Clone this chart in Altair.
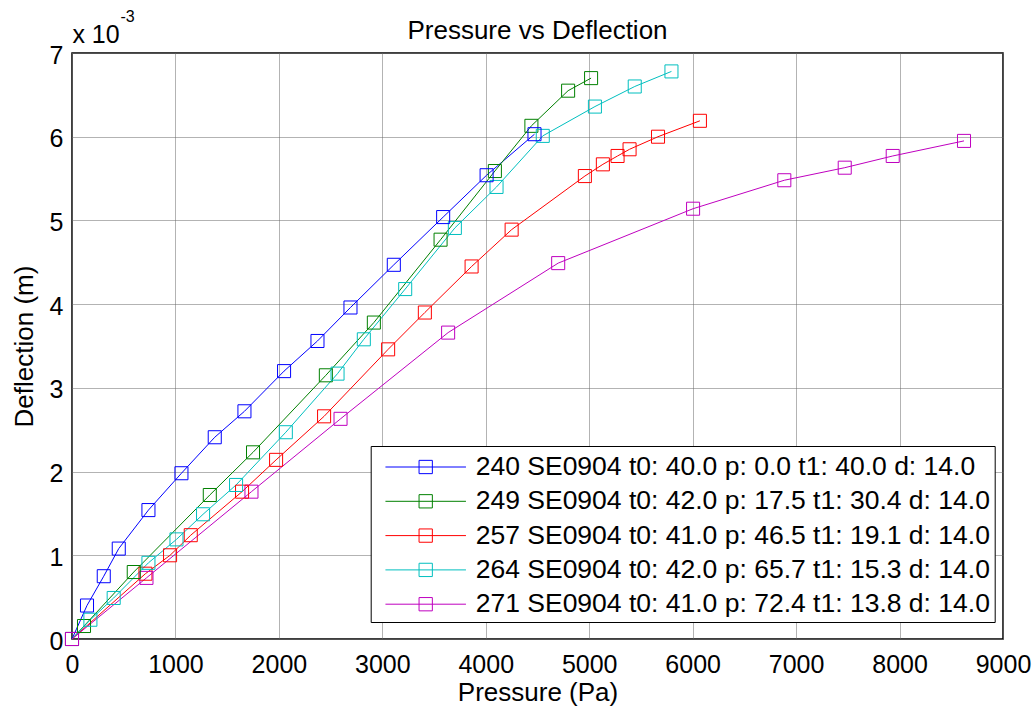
import altair as alt
import pandas as pd

FONT = "Liberation Sans"

series_labels = [
    "240 SE0904 t0: 40.0 p: 0.0 t1: 40.0 d: 14.0",
    "249 SE0904 t0: 42.0 p: 17.5 t1: 30.4 d: 14.0",
    "257 SE0904 t0: 41.0 p: 46.5 t1: 19.1 d: 14.0",
    "264 SE0904 t0: 42.0 p: 65.7 t1: 15.3 d: 14.0",
    "271 SE0904 t0: 41.0 p: 72.4 t1: 13.8 d: 14.0",
]
series_colors = ["#0000FF", "#008000", "#FF0000", "#00BFBF", "#BF00BF"]

# Pressure (Pa)
p240 = [0, 145, 307, 452, 739, 1058, 1380, 1667, 2050, 2373, 2692, 3111, 3588, 4008, 4471]
p249 = [0, 116, 597, 1332, 1750, 2454, 2918, 3563, 4088, 4441, 4796, 5018]
p257 = [0, 710, 948, 1148, 1644, 1973, 2437, 3056, 3411, 3863, 4250, 4958, 5132, 5274, 5390, 5665, 6070]
p264 = [0, 178, 403, 739, 1010, 1267, 1586, 2067, 2567, 2821, 3221, 3701, 4104, 4551, 5055, 5440, 5795]
p271 = [0, 720, 1735, 2596, 3636, 4700, 6004, 6886, 7470, 7934, 8623]

# Deflection (m)
d240 = [0, 0.00040, 0.00075, 0.00108, 0.00154, 0.00198, 0.00241, 0.00272, 0.00320, 0.00356, 0.00396,
        0.00447, 0.00504, 0.00554, 0.00603]
d249 = [0, 0.000155, 0.00080, 0.00172, 0.00223, 0.00315, 0.00378, 0.00477, 0.00559, 0.00613, 0.00655, 0.00670]
d257 = [0, 0.00078, 0.00100, 0.00124, 0.00176, 0.00214, 0.00266, 0.00346, 0.00390, 0.00445, 0.00489,
        0.00553, 0.00567, 0.00577, 0.00585, 0.00600, 0.00619]
d264 = [0, 0.00023, 0.00049, 0.00091, 0.00119, 0.00149, 0.00184, 0.00247, 0.00317, 0.00358, 0.00418,
        0.00491, 0.00540, 0.00601, 0.00636, 0.00660, 0.00678]
d271 = [0, 0.00073, 0.00176, 0.00263, 0.00366, 0.00449, 0.00514, 0.00548, 0.00563, 0.00577, 0.00595]

x_ticks = [0, 1000, 2000, 3000, 4000, 5000, 6000, 7000, 8000, 9000]
y_ticks = [0, 0.001, 0.002, 0.003, 0.004, 0.005, 0.006, 0.007]

rows = []
for lab, xs, ys in zip(series_labels, [p240, p249, p257, p264, p271], [d240, d249, d257, d264, d271]):
    for i, (xv, yv) in enumerate(zip(xs, ys)):
        rows.append({"series": lab, "pressure": xv, "deflection": yv, "idx": i})
df = pd.DataFrame(rows)

legend_path = "M-3.09,0M-2.44,0H2.44M-0.403,-0.403H0.403V0.403H-0.403Z"

lines = alt.Chart(df).mark_line(
    strokeWidth=1,
    point=alt.OverlayMarkDef(shape="square", filled=False, size=170, strokeWidth=1),
).encode(
    x=alt.X("pressure:Q", scale=alt.Scale(domain=[0, 9000], nice=False),
            axis=alt.Axis(values=x_ticks, title="Pressure (Pa)", format="d",
                          titleX=465.5, titleY=61)),
    y=alt.Y("deflection:Q", scale=alt.Scale(domain=[0, 0.007], nice=False),
            axis=alt.Axis(values=y_ticks, title="Deflection (m)",
                          labelExpr="round(datum.value*1000)",
                          titleX=-39.3, titleY=293, labelOffset=2)),
    color=alt.Color("series:N", scale=alt.Scale(domain=series_labels, range=series_colors),
                    legend=alt.Legend(title=None)),
    order="idx:Q",
)

exp_base = alt.Chart(pd.DataFrame({"t": ["x 10"]})).mark_text(
    align="left", baseline="alphabetic", fontSize=25, font=FONT, color="black"
).encode(x=alt.value(0.4), y=alt.value(-10), text="t:N")

exp_sup = alt.Chart(pd.DataFrame({"t": ["-3"]})).mark_text(
    align="left", baseline="alphabetic", fontSize=16, font=FONT, color="black"
).encode(x=alt.value(48.4), y=alt.value(-31), text="t:N")

chart = alt.layer(lines, exp_base, exp_sup).properties(
    width=931,
    height=586,
    title=alt.TitleParams(text="Pressure vs Deflection", font=FONT, fontSize=26, fontWeight="normal",
                          color="black", anchor="middle", baseline="alphabetic", offset=-56,
                          frame="group"),
    padding={"left": 72, "top": 53, "right": 32, "bottom": 72},
    autosize=alt.AutoSizeParams(type="none"),
    background="white",
).configure_view(
    stroke="black", strokeWidth=1.5
).configure_axis(
    domain=False, ticks=False, tickSize=0, labelFlush=False,
    grid=True, gridColor="#666666", gridDash=[1, 1], gridWidth=1,
    labelFont=FONT, labelFontSize=25, labelColor="black",
    titleFont=FONT, titleFontSize=26, titleFontWeight="normal", titleColor="black",
    titleBaseline="alphabetic", titleAlign="center",
).configure_axisX(
    labelPadding=13,
).configure_axisY(
    labelPadding=9, titleAngle=270,
).configure_legend(
    orient="none", legendX=298.7, legendY=393,
    padding=4, fillColor="white", strokeColor="black", strokeWidth=1,
    symbolType=legend_path, symbolSize=1089, symbolStrokeWidth=1,
    symbolFillColor="transparent", symbolOffset=34,
    labelOffset=33, labelFont=FONT, labelFontSize=26.5, labelColor="black", labelLimit=1000,
    rowPadding=3.3,
)

chart.save("out.html", embed_options={"renderer": "svg", "actions": False})
